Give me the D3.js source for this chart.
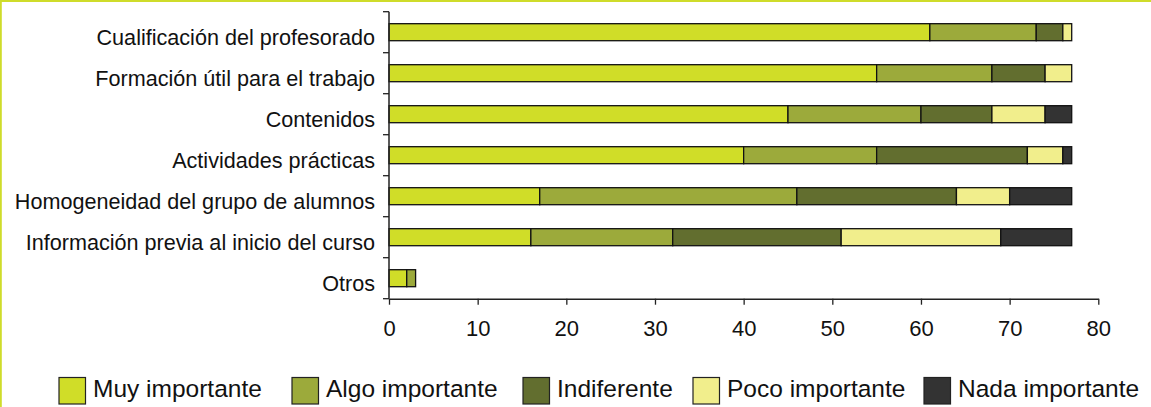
<!DOCTYPE html>
<html>
<head>
<meta charset="utf-8">
<script src="https://cdn.jsdelivr.net/npm/d3@7"></script>
<style>
  html, body { margin: 0; padding: 0; background: #fff; }
  svg { display: block; font-family: "Liberation Sans", Arial, sans-serif; }
</style>
</head>
<body>
<svg id="chart" width="1151" height="407"></svg>
<script>
// Valoración de aspectos del curso (% de respuestas)
const categories = [
  "Cualificación del profesorado",
  "Formación útil para el trabajo",
  "Contenidos",
  "Actividades prácticas",
  "Homogeneidad del grupo de alumnos",
  "Información previa al inicio del curso",
  "Otros"
];
const seriesNames = ["Muy importante", "Algo importante", "Indiferente", "Poco importante", "Nada importante"];
const muyImportante  = [61, 55, 45, 40, 17, 16, 2];
const algoImportante = [12, 13, 15, 15, 29, 16, 1];
const indiferente    = [3, 6, 8, 17, 18, 19, 0];
const pocoImportante = [1, 3, 6, 4, 6, 18, 0];
const nadaImportante = [0, 0, 3, 1, 7, 8, 0];
const xTicks = [0, 10, 20, 30, 40, 50, 60, 70, 80];
const colors = ["#d0dd28", "#9caa3b", "#626e2f", "#f1ee8c", "#333333"];

const svg = d3.select("#chart");
const W = 1151, H = 407;

// frame lines on the top and left edges
svg.append("line").attr("x1", 0).attr("x2", W).attr("y1", 1).attr("y2", 1)
  .attr("stroke", "#cfdc2a").attr("stroke-width", 2.2);
svg.append("line").attr("x1", 0.9).attr("x2", 0.9).attr("y1", 0).attr("y2", H)
  .attr("stroke", "#cfdc2a").attr("stroke-width", 1.8);

const x = d3.scaleLinear().domain([0, 80]).range([389, 1098.3]);
const y = d3.scaleBand().domain(categories).range([11.7, 298.7])
  .paddingInner(0.585).paddingOuter(0.2925);

const rows = categories.map((c, i) => ({
  cat: c,
  "Muy importante": muyImportante[i],
  "Algo importante": algoImportante[i],
  "Indiferente": indiferente[i],
  "Poco importante": pocoImportante[i],
  "Nada importante": nadaImportante[i]
}));
const stacked = d3.stack().keys(seriesNames)(rows);

// stacked bars
svg.append("g").selectAll("g").data(stacked).join("g")
  .attr("fill", (d, i) => colors[i])
  .selectAll("rect").data(d => d.filter(s => s[1] - s[0] > 0)).join("rect")
  .attr("x", d => x(d[0]))
  .attr("width", d => x(d[1]) - x(d[0]))
  .attr("y", d => y(d.data.cat))
  .attr("height", y.bandwidth())
  .attr("stroke", "#111")
  .attr("stroke-width", 1.3);

// y axis: line with ticks at band boundaries
const yAxis = svg.append("g");
const step = y.step();
const yTop = 11.7, yBot = 298.7;
yAxis.append("line").attr("x1", 389).attr("x2", 389).attr("y1", yTop).attr("y2", yBot)
  .attr("stroke", "#222").attr("stroke-width", 1.5);
const bounds = d3.range(categories.length + 1).map(i => yTop + i * step);
yAxis.selectAll("line.tick").data(bounds).join("line").attr("class", "tick")
  .attr("x1", 383).attr("x2", 389).attr("y1", d => d).attr("y2", d => d)
  .attr("stroke", "#222").attr("stroke-width", 1.3);
yAxis.selectAll("text").data(categories).join("text")
  .attr("x", 375)
  .attr("y", d => y(d) + y.bandwidth() / 2 + 12.3)
  .attr("text-anchor", "end")
  .attr("font-size", 21.6)
  .attr("fill", "#111")
  .text(d => d);

// x axis
const xAxis = svg.append("g").attr("transform", `translate(0,${yBot})`)
  .call(d3.axisBottom(x).tickValues(xTicks).tickSize(6).tickSizeOuter(0).tickPadding(16));
xAxis.select(".domain").attr("stroke", "#222").attr("stroke-width", 1.5);
xAxis.selectAll(".tick line").attr("stroke", "#222").attr("stroke-width", 1.3);
xAxis.selectAll(".tick text")
  .attr("font-size", 22)
  .attr("font-family", "Liberation Sans, Arial, sans-serif")
  .attr("fill", "#111");

// legend: one swatch + label per series, laid out in a single row
const legendX = [59, 292, 523, 693, 924];
const legend = svg.append("g");
seriesNames.forEach((name, i) => {
  legend.append("rect")
    .attr("x", legendX[i]).attr("y", 377.5).attr("width", 26.5).attr("height", 26.5)
    .attr("fill", colors[i]).attr("stroke", "#222").attr("stroke-width", 1.2);
  legend.append("text")
    .attr("x", legendX[i] + 34).attr("y", 397)
    .attr("font-size", 24.5).attr("fill", "#111")
    .text(name);
});
</script>
</body>
</html>
